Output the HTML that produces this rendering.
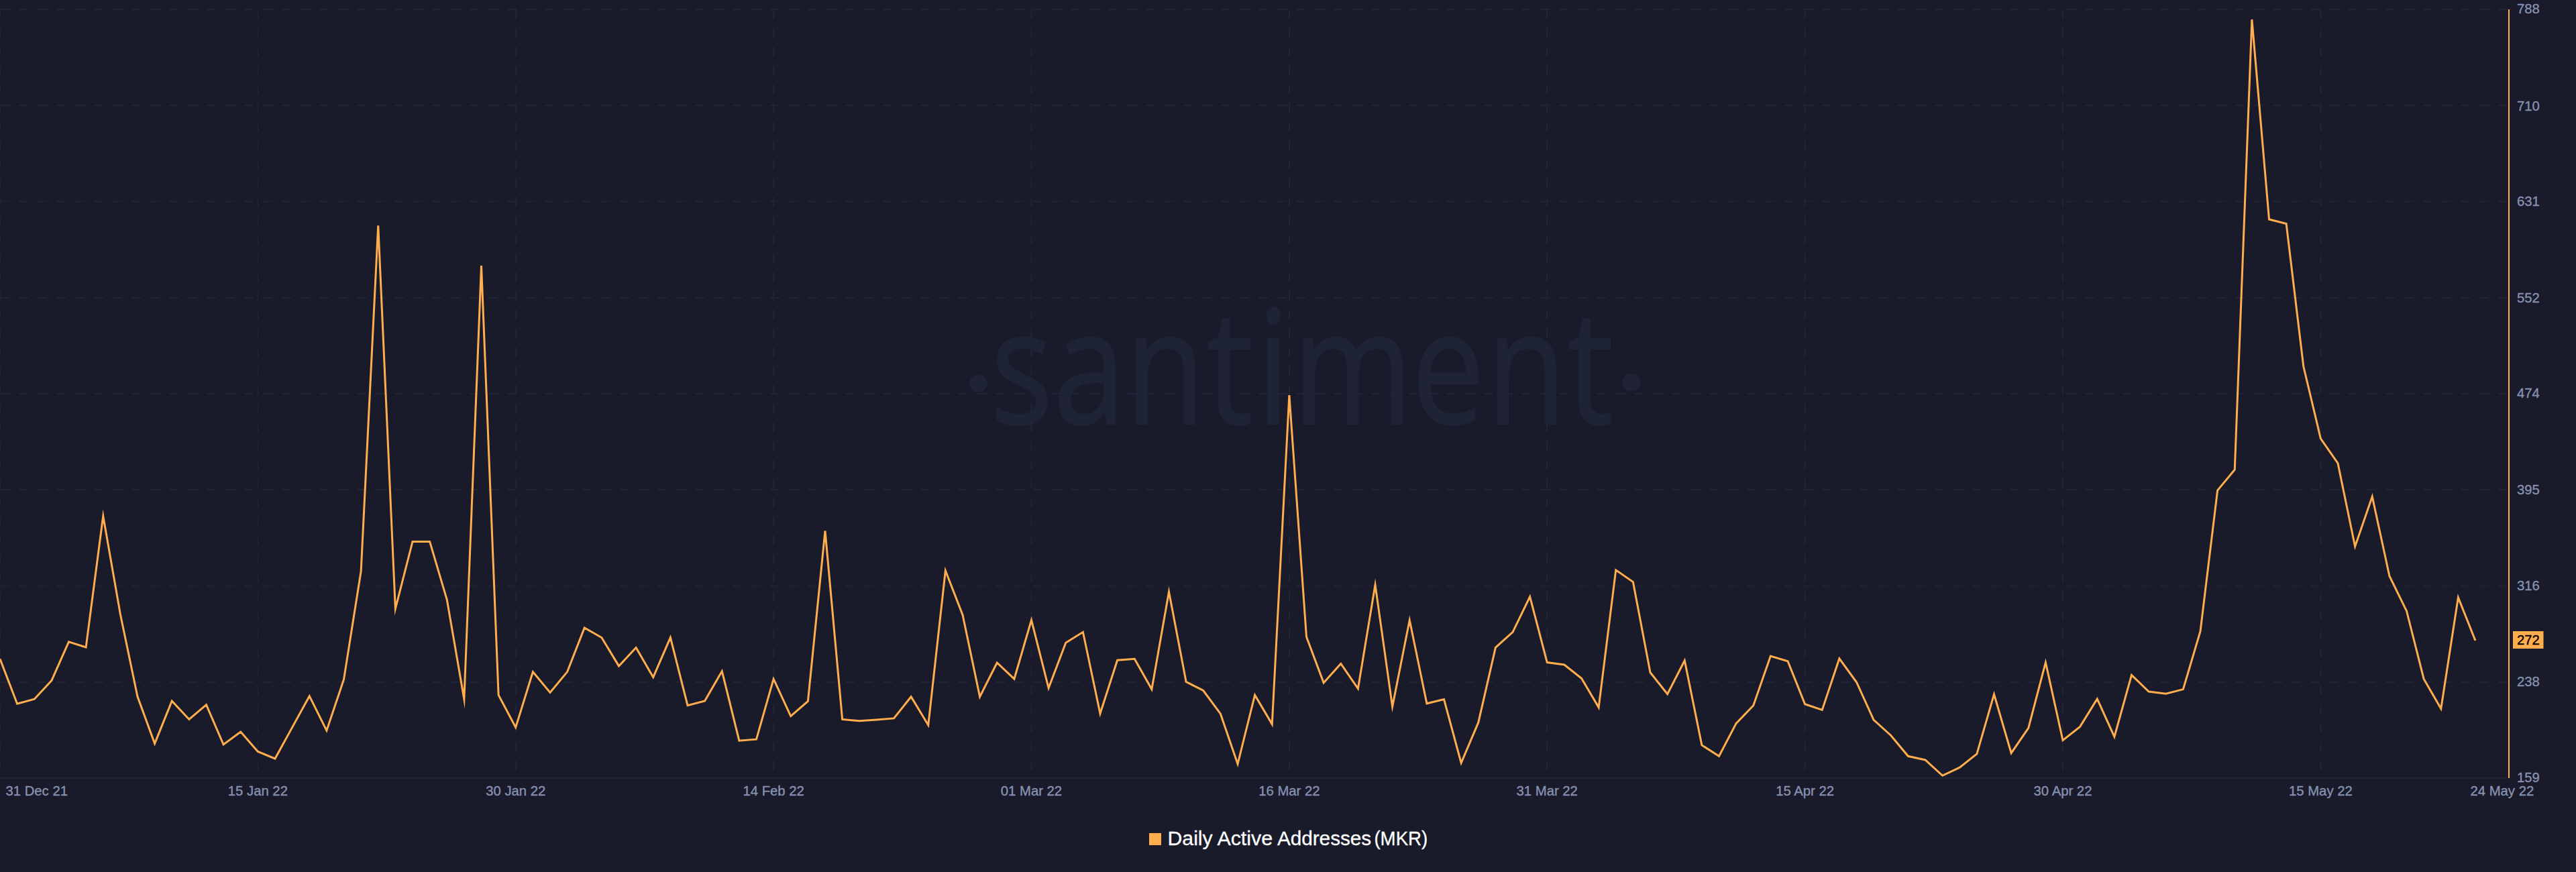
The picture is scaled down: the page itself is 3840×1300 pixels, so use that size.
<!DOCTYPE html>
<html><head><meta charset="utf-8"><title>Daily Active Addresses (MKR)</title>
<style>
html,body{margin:0;padding:0;background:#191b2b;width:3840px;height:1300px;overflow:hidden}
svg{display:block}
.ax text{font-family:"Liberation Sans",Arial,Helvetica,sans-serif;font-size:20.3px;fill:#8792b0;stroke:#8792b0;stroke-width:0.35px}
.wm{font-family:"Open Sans","Liberation Sans",sans-serif;font-size:236px;fill:#21263a}
.leg{font-family:"Liberation Sans",Arial,sans-serif;font-size:29px;fill:#ffffff;stroke:#ffffff;stroke-width:0.3px}
</style></head>
<body>
<svg width="3840" height="1300" viewBox="0 0 3840 1300">
<rect x="0" y="0" width="3840" height="1300" fill="#191b2b"/>
<g stroke="#212436" stroke-width="2" stroke-dasharray="14 14" fill="none">
<line x1="0" y1="14.00" x2="3740" y2="14.00"/>
<line x1="0" y1="157.00" x2="3740" y2="157.00"/>
<line x1="0" y1="300.50" x2="3740" y2="300.50"/>
<line x1="0" y1="444.00" x2="3740" y2="444.00"/>
<line x1="0" y1="587.00" x2="3740" y2="587.00"/>
<line x1="0" y1="730.00" x2="3740" y2="730.00"/>
<line x1="0" y1="873.50" x2="3740" y2="873.50"/>
<line x1="0" y1="1017.00" x2="3740" y2="1017.00"/>
<line x1="0.00" y1="14" x2="0.00" y2="1159"/>
<line x1="384.50" y1="14" x2="384.50" y2="1159"/>
<line x1="769.00" y1="14" x2="769.00" y2="1159"/>
<line x1="1153.00" y1="14" x2="1153.00" y2="1159"/>
<line x1="1537.50" y1="14" x2="1537.50" y2="1159"/>
<line x1="1922.00" y1="14" x2="1922.00" y2="1159"/>
<line x1="2306.00" y1="14" x2="2306.00" y2="1159"/>
<line x1="2690.50" y1="14" x2="2690.50" y2="1159"/>
<line x1="3075.00" y1="14" x2="3075.00" y2="1159"/>
<line x1="3459.50" y1="14" x2="3459.50" y2="1159"/>
</g>
<g fill="#21263a" opacity="0.75">
<circle cx="1458.5" cy="571.3" r="13.3"/>
<circle cx="2431.8" cy="570" r="13.3"/>
<text class="wm" transform="translate(1476.9,632) scale(0.82,1)" x="0" y="0" dx="0 1.22 0 3.05 7.32 4.88 -1.83 3.66 1.83" stroke="#21263a" stroke-width="2.4">santiment</text>
</g>
<line x1="0" y1="1160" x2="3740" y2="1160" stroke="#222538" stroke-width="2"/>
<polyline points="0.00,982.3 25.62,1049.3 51.25,1042.2 76.88,1014.6 102.50,956.8 128.12,965.0 153.75,769.3 179.38,915.8 205.00,1038.6 230.62,1108.5 256.25,1045.0 281.88,1072.4 307.50,1050.7 333.12,1110.0 358.75,1091.0 384.38,1120.5 410.00,1131.0 435.62,1084.4 461.25,1037.7 486.88,1089.2 512.50,1013.0 538.12,851.8 563.75,336.2 589.38,907.6 615.00,807.4 640.62,807.4 666.25,894.1 691.88,1042.4 717.50,396.0 743.12,1036.2 768.75,1084.4 794.38,1001.6 820.00,1032.4 845.62,1001.6 871.25,936.0 896.88,950.5 922.50,992.9 948.12,965.4 973.75,1009.7 999.38,950.5 1025.00,1051.7 1050.62,1044.9 1076.25,1000.6 1101.88,1104.2 1127.50,1102.2 1153.12,1012.2 1178.75,1067.6 1204.38,1045.4 1230.00,791.5 1255.62,1072.4 1281.25,1074.8 1306.88,1072.9 1332.50,1070.9 1358.12,1038.7 1383.75,1081.0 1409.38,850.8 1435.00,916.8 1460.62,1038.7 1486.25,988.0 1511.88,1012.2 1537.50,924.5 1563.12,1025.8 1588.75,958.2 1614.38,942.3 1640.00,1063.8 1665.62,984.2 1691.25,982.3 1716.88,1027.6 1742.50,882.3 1768.12,1016.5 1793.75,1029.5 1819.38,1064.2 1845.00,1139.0 1870.62,1036.2 1896.25,1079.6 1921.88,589.0 1947.50,949.5 1973.12,1017.9 1998.75,989.5 2024.38,1026.6 2050.00,871.9 2075.62,1053.5 2101.25,924.5 2126.88,1048.8 2152.50,1042.5 2178.12,1137.5 2203.75,1077.2 2229.38,965.4 2255.00,942.3 2280.62,889.5 2306.25,987.6 2331.88,991.0 2357.50,1011.2 2383.12,1054.6 2408.75,849.8 2434.38,867.6 2460.00,1002.5 2485.62,1034.8 2511.25,984.7 2536.88,1110.9 2562.50,1127.3 2588.12,1078.4 2613.75,1051.7 2639.38,978.0 2665.00,985.7 2690.62,1049.7 2716.25,1058.4 2741.88,981.8 2767.50,1017.0 2793.12,1073.3 2818.75,1096.5 2844.38,1127.3 2870.00,1133.0 2895.62,1156.3 2921.25,1144.1 2946.88,1123.9 2972.50,1035.2 2998.12,1122.7 3023.75,1085.4 3049.38,987.6 3075.00,1103.7 3100.62,1083.4 3126.25,1042.0 3151.88,1098.4 3177.50,1006.4 3203.12,1031.0 3228.75,1034.3 3254.38,1027.6 3280.00,941.3 3305.62,731.0 3331.25,700.2 3356.88,29.0 3382.50,327.0 3408.12,333.5 3433.75,546.3 3459.38,653.8 3485.00,690.6 3510.62,814.7 3536.25,740.3 3561.88,858.7 3587.50,910.9 3613.12,1012.2 3638.75,1056.6 3664.38,890.6 3690.00,955.0" fill="none" stroke="#ffad4d" stroke-width="3" stroke-linejoin="miter" stroke-miterlimit="10"/>
<line x1="3740" y1="14" x2="3740" y2="1160" stroke="#ffad4d" stroke-width="2"/>
<g class="ax">
<text x="3752" y="20.20">788</text>
<text x="3752" y="164.55">710</text>
<text x="3752" y="307.05">631</text>
<text x="3752" y="450.55">552</text>
<text x="3752" y="593.15">474</text>
<text x="3752" y="737.15">395</text>
<text x="3752" y="880.25">316</text>
<text x="3752" y="1022.95">238</text>
<text x="3752" y="1166.25">159</text>
<text x="8.5" y="1186.1">31 Dec 21</text>
<text x="384.38" y="1186.1" text-anchor="middle">15 Jan 22</text>
<text x="768.75" y="1186.1" text-anchor="middle">30 Jan 22</text>
<text x="1153.12" y="1186.1" text-anchor="middle">14 Feb 22</text>
<text x="1537.50" y="1186.1" text-anchor="middle">01 Mar 22</text>
<text x="1921.88" y="1186.1" text-anchor="middle">16 Mar 22</text>
<text x="2306.25" y="1186.1" text-anchor="middle">31 Mar 22</text>
<text x="2690.62" y="1186.1" text-anchor="middle">15 Apr 22</text>
<text x="3075.00" y="1186.1" text-anchor="middle">30 Apr 22</text>
<text x="3459.38" y="1186.1" text-anchor="middle">15 May 22</text>
<text x="3682.5" y="1186.1">24 May 22</text>
</g>
<rect x="3746" y="941" width="45.5" height="26" fill="#ffad4d"/>
<text x="3752" y="961.2" style="font-family:'Liberation Sans',Arial,sans-serif;font-size:20.3px;fill:#000;stroke:#000;stroke-width:0.35px">272</text>
<rect x="1713" y="1242" width="18" height="18" fill="#ffad4d"/>
<g class="leg"><text transform="translate(1740.6,1260) scale(1.0400,1.045)">Daily</text> <text transform="translate(1814.4,1260) scale(1.0480,1.045)">Active</text> <text transform="translate(1903.9,1260) scale(1.0240,1.045)">Addresses</text> <text transform="translate(2048.4,1260) scale(0.9540,1.045)">(MKR)</text></g>
</svg>
</body></html>
